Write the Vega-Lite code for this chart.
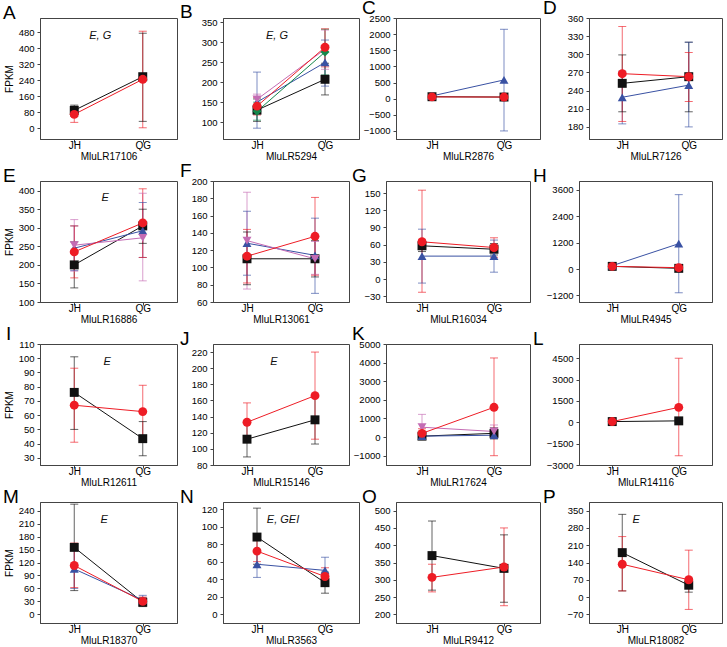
{
"$schema":"https://vega.github.io/schema/vega-lite/v6.json",
"padding":{"left":2,"top":-2,"right":0,"bottom":0},
"spacing":-1,
"datasets":{"d":[
{"p":"A","s":"k","x":"JH","m":90,"lo":60,"hi":116},{"p":"A","s":"k","x":"QG","m":258,"lo":35,"hi":475},
{"p":"A","s":"r","x":"JH","m":70,"lo":30,"hi":105},{"p":"A","s":"r","x":"QG","m":245,"lo":3,"hi":485},
{"p":"B","s":"k","x":"JH","m":130,"lo":102,"hi":158},{"p":"B","s":"k","x":"QG","m":207,"lo":168,"hi":247},
{"p":"B","s":"b","x":"JH","m":150,"lo":85,"hi":225},{"p":"B","s":"b","x":"QG","m":249,"lo":190,"hi":305},
{"p":"B","s":"m","x":"JH","m":157,"lo":130,"hi":170},{"p":"B","s":"m","x":"QG","m":282,"lo":232,"hi":330},
{"p":"B","s":"g","x":"JH","m":127,"lo":105,"hi":150},{"p":"B","s":"g","x":"QG","m":275,"lo":218,"hi":332},
{"p":"B","s":"r","x":"JH","m":140,"lo":118,"hi":162},{"p":"B","s":"r","x":"QG","m":287,"lo":238,"hi":333},
{"p":"C","s":"k","x":"JH","m":60,"lo":40,"hi":80},{"p":"C","s":"k","x":"QG","m":50,"lo":30,"hi":70},
{"p":"C","s":"b","x":"JH","m":85,"lo":40,"hi":130},{"p":"C","s":"b","x":"QG","m":580,"lo":-1000,"hi":2150},
{"p":"C","s":"r","x":"JH","m":55,"lo":30,"hi":80},{"p":"C","s":"r","x":"QG","m":50,"lo":20,"hi":80},
{"p":"D","s":"k","x":"JH","m":252,"lo":205,"hi":299},{"p":"D","s":"k","x":"QG","m":263,"lo":205,"hi":320},
{"p":"D","s":"b","x":"JH","m":229,"lo":185,"hi":272},{"p":"D","s":"b","x":"QG","m":249,"lo":180,"hi":320},
{"p":"D","s":"r","x":"JH","m":268,"lo":189,"hi":346},{"p":"D","s":"r","x":"QG","m":263,"lo":222,"hi":303},
{"p":"E","s":"k","x":"JH","m":200,"lo":138,"hi":262},{"p":"E","s":"k","x":"QG","m":305,"lo":258,"hi":350},
{"p":"E","s":"b","x":"JH","m":245,"lo":185,"hi":305},{"p":"E","s":"b","x":"QG","m":292,"lo":220,"hi":368},
{"p":"E","s":"m","x":"JH","m":253,"lo":183,"hi":322},{"p":"E","s":"m","x":"QG","m":273,"lo":157,"hi":393},
{"p":"E","s":"r","x":"JH","m":235,"lo":165,"hi":305},{"p":"E","s":"r","x":"QG","m":313,"lo":220,"hi":405},
{"p":"F","s":"k","x":"JH","m":110,"lo":80,"hi":141},{"p":"F","s":"k","x":"QG","m":110,"lo":89,"hi":131},
{"p":"F","s":"b","x":"JH","m":128,"lo":91,"hi":165},{"p":"F","s":"b","x":"QG","m":114,"lo":70,"hi":157},
{"p":"F","s":"m","x":"JH","m":131,"lo":75,"hi":187},{"p":"F","s":"m","x":"QG","m":110,"lo":92,"hi":130},
{"p":"F","s":"r","x":"JH","m":113,"lo":82,"hi":144},{"p":"F","s":"r","x":"QG","m":136,"lo":91,"hi":181},
{"p":"G","s":"k","x":"JH","m":58,"lo":48,"hi":68},{"p":"G","s":"k","x":"QG","m":52,"lo":42,"hi":62},
{"p":"G","s":"b","x":"JH","m":40,"lo":-7,"hi":87},{"p":"G","s":"b","x":"QG","m":40,"lo":12,"hi":68},
{"p":"G","s":"r","x":"JH","m":65,"lo":-23,"hi":155},{"p":"G","s":"r","x":"QG","m":55,"lo":38,"hi":72},
{"p":"H","s":"k","x":"JH","m":120,"lo":60,"hi":180},{"p":"H","s":"k","x":"QG","m":30,"lo":-30,"hi":90},
{"p":"H","s":"b","x":"JH","m":150,"lo":90,"hi":210},{"p":"H","s":"b","x":"QG","m":1150,"lo":-1080,"hi":3380},
{"p":"H","s":"r","x":"JH","m":120,"lo":60,"hi":180},{"p":"H","s":"r","x":"QG","m":60,"lo":0,"hi":120},
{"p":"I","s":"k","x":"JH","m":76,"lo":50,"hi":101},{"p":"I","s":"k","x":"QG","m":43.5,"lo":31.5,"hi":55.5},
{"p":"I","s":"r","x":"JH","m":67,"lo":41,"hi":93},{"p":"I","s":"r","x":"QG","m":62.5,"lo":43.5,"hi":81},
{"p":"J","s":"k","x":"JH","m":112,"lo":90,"hi":133},{"p":"J","s":"k","x":"QG","m":136,"lo":106,"hi":166},
{"p":"J","s":"r","x":"JH","m":133,"lo":109,"hi":157},{"p":"J","s":"r","x":"QG","m":166,"lo":112,"hi":220},
{"p":"K","s":"k","x":"JH","m":50,"lo":-50,"hi":150},{"p":"K","s":"k","x":"QG","m":200,"lo":-100,"hi":500},
{"p":"K","s":"b","x":"JH","m":50,"lo":-50,"hi":150},{"p":"K","s":"b","x":"QG","m":100,"lo":-50,"hi":250},
{"p":"K","s":"m","x":"JH","m":530,"lo":-100,"hi":1220},{"p":"K","s":"m","x":"QG","m":300,"lo":-50,"hi":650},
{"p":"K","s":"r","x":"JH","m":200,"lo":-50,"hi":450},{"p":"K","s":"r","x":"QG","m":1600,"lo":-1000,"hi":4250},
{"p":"L","s":"k","x":"JH","m":50,"lo":0,"hi":100},{"p":"L","s":"k","x":"QG","m":100,"lo":0,"hi":200},
{"p":"L","s":"r","x":"JH","m":50,"lo":0,"hi":100},{"p":"L","s":"r","x":"QG","m":1050,"lo":-2350,"hi":4500},
{"p":"M","s":"k","x":"JH","m":155,"lo":55,"hi":255},{"p":"M","s":"k","x":"QG","m":28,"lo":18,"hi":38},
{"p":"M","s":"b","x":"JH","m":105,"lo":60,"hi":150},{"p":"M","s":"b","x":"QG","m":33,"lo":22,"hi":44},
{"p":"M","s":"r","x":"JH","m":113,"lo":62,"hi":165},{"p":"M","s":"r","x":"QG","m":30,"lo":20,"hi":40},
{"p":"N","s":"k","x":"JH","m":88,"lo":57,"hi":121},{"p":"N","s":"k","x":"QG","m":36,"lo":24,"hi":48},
{"p":"N","s":"b","x":"JH","m":57,"lo":42,"hi":72},{"p":"N","s":"b","x":"QG","m":50,"lo":36,"hi":65},
{"p":"N","s":"r","x":"JH","m":72,"lo":60,"hi":85},{"p":"N","s":"r","x":"QG","m":43,"lo":33,"hi":53},
{"p":"O","s":"k","x":"JH","m":370,"lo":270,"hi":470},{"p":"O","s":"k","x":"QG","m":333,"lo":235,"hi":430},
{"p":"O","s":"r","x":"JH","m":307,"lo":265,"hi":345},{"p":"O","s":"r","x":"QG","m":337,"lo":225,"hi":450},
{"p":"P","s":"k","x":"JH","m":180,"lo":25,"hi":335},{"p":"P","s":"k","x":"QG","m":48,"lo":20,"hi":76},
{"p":"P","s":"r","x":"JH","m":133,"lo":25,"hi":245},{"p":"P","s":"r","x":"QG","m":70,"lo":-50,"hi":190}
]},
"config":{
 "font":"Liberation Sans",
 "view":{"stroke":"#444","strokeWidth":1},
 "axis":{"domainColor":"#444","tickColor":"#444","labelColor":"#000","titleColor":"#000","labelFontSize":10,"titleFontSize":10,"titleFontWeight":"normal","grid":false,"tickSize":3},
 "axisX":{"labelPadding":-2,"titlePadding":1,"labelAngle":0,"titleColor":"#000","labelColor":"#000"},
 "axisY":{"labelOverlap":false,"labelPadding":3,"titlePadding":4,"labelFontSize":9.5},
 "title":{"fontSize":19,"fontWeight":"normal","anchor":"start","frame":"group","offset":-5,"baseline":"alphabetic","color":"#000"},
 "line":{"strokeWidth":1},
 "tick":{"thickness":1}
},
"vconcat":[
{"hconcat":[
{"title":{"text":"A","dx":-37},"width":137,"height":121,"data":{"name":"d"},"transform":[{"filter":"datum.p==='A'"}],
 "encoding":{"x":{"field":"x","type":"nominal","scale":{"type":"point","domain":["JH","QG"],"padding":0.5},"axis":{"title":"MluLR17106"}},
  "color":{"field":"s","type":"nominal","scale":{"domain":["k","r","b","m","g"],"range":["#111111","#ee1c25","#3951a3","#c46cb4","#15874b"]},"legend":null}},
 "layer":[
  {"mark":{"type":"rule","opacity":0.65},"encoding":{"y":{"field":"lo","type":"quantitative","scale":{"domain":[-53,551],"nice":false,"zero":false},"axis":{"values":[0,80,160,240,320,400,480],"tickCount":20,"format":"d","labelOverlap":false,"title":"FPKM"}},"y2":{"field":"hi"}}},
  {"mark":{"type":"tick","opacity":0.65,"size":8},"encoding":{"y":{"field":"lo","type":"quantitative"}}},
  {"mark":{"type":"tick","opacity":0.65,"size":8},"encoding":{"y":{"field":"hi","type":"quantitative"}}},
  {"mark":{"type":"line"},"encoding":{"y":{"field":"m","type":"quantitative"}}},
  {"mark":{"type":"point","filled":true,"size":80,"opacity":1},"encoding":{"y":{"field":"m","type":"quantitative"},"shape":{"field":"s","type":"nominal","scale":{"domain":["k","r","b","m","g"],"range":["square","circle","triangle-up","triangle-down","diamond"]},"legend":null}}},
  {"data":{"values":[{"p":"A"}]},"mark":{"type":"text","text":"E, G","fontStyle":"italic","fontSize":11,"dx":26},"encoding":{"x":{"datum":"JH"},"y":{"datum":461},"color":{"value":"#111"}}}
 ]},
{"title":{"text":"B","dx":-43},"width":136,"height":121,"data":{"name":"d"},"transform":[{"filter":"datum.p==='B'"}],
 "encoding":{"x":{"field":"x","type":"nominal","scale":{"type":"point","domain":["JH","QG"],"padding":0.5},"axis":{"title":"MluLR5294"}},
  "color":{"field":"s","type":"nominal","scale":{"domain":["k","r","b","m","g"],"range":["#111111","#ee1c25","#3951a3","#c46cb4","#15874b"]},"legend":null}},
 "layer":[
  {"mark":{"type":"rule","opacity":0.65},"encoding":{"y":{"field":"lo","type":"quantitative","scale":{"domain":[58,360],"nice":false,"zero":false},"axis":{"values":[100,150,200,250,300,350],"tickCount":20,"format":"d","labelOverlap":false,"title":null}},"y2":{"field":"hi"}}},
  {"mark":{"type":"tick","opacity":0.65,"size":8},"encoding":{"y":{"field":"lo","type":"quantitative"}}},
  {"mark":{"type":"tick","opacity":0.65,"size":8},"encoding":{"y":{"field":"hi","type":"quantitative"}}},
  {"mark":{"type":"line"},"encoding":{"y":{"field":"m","type":"quantitative"}}},
  {"mark":{"type":"point","filled":true,"size":80,"opacity":1},"encoding":{"y":{"field":"m","type":"quantitative"},"shape":{"field":"s","type":"nominal","scale":{"domain":["k","r","b","m","g"],"range":["square","circle","triangle-up","triangle-down","diamond"]},"legend":null}}},
  {"data":{"values":[{"p":"B"}]},"mark":{"type":"text","text":"E, G","fontStyle":"italic","fontSize":11,"dx":20},"encoding":{"x":{"datum":"JH"},"y":{"datum":315},"color":{"value":"#111"}}}
 ]},
{"title":{"text":"C","dx":-34},"width":144,"height":121,"data":{"name":"d"},"transform":[{"filter":"datum.p==='C'"}],
 "encoding":{"x":{"field":"x","type":"nominal","scale":{"type":"point","domain":["JH","QG"],"padding":0.5},"axis":{"title":"MluLR2876"}},
  "color":{"field":"s","type":"nominal","scale":{"domain":["k","r","b","m","g"],"range":["#111111","#ee1c25","#3951a3","#c46cb4","#15874b"]},"legend":null}},
 "layer":[
  {"mark":{"type":"rule","opacity":0.65},"encoding":{"y":{"field":"lo","type":"quantitative","scale":{"domain":[-1250,2500],"nice":false,"zero":false},"axis":{"values":[-1000,-500,0,500,1000,1500,2000,2500],"tickCount":20,"format":"d","labelOverlap":false,"title":null}},"y2":{"field":"hi"}}},
  {"mark":{"type":"tick","opacity":0.65,"size":8},"encoding":{"y":{"field":"lo","type":"quantitative"}}},
  {"mark":{"type":"tick","opacity":0.65,"size":8},"encoding":{"y":{"field":"hi","type":"quantitative"}}},
  {"mark":{"type":"line"},"encoding":{"y":{"field":"m","type":"quantitative"}}},
  {"mark":{"type":"point","filled":true,"size":80,"opacity":1},"encoding":{"y":{"field":"m","type":"quantitative"},"shape":{"field":"s","type":"nominal","scale":{"domain":["k","r","b","m","g"],"range":["square","circle","triangle-up","triangle-down","diamond"]},"legend":null}}}
 ]},
{"title":{"text":"D","dx":-46},"width":133,"height":121,"data":{"name":"d"},"transform":[{"filter":"datum.p==='D'"}],
 "encoding":{"x":{"field":"x","type":"nominal","scale":{"type":"point","domain":["JH","QG"],"padding":0.5},"axis":{"title":"MluLR7126"}},
  "color":{"field":"s","type":"nominal","scale":{"domain":["k","r","b","m","g"],"range":["#111111","#ee1c25","#3951a3","#c46cb4","#15874b"]},"legend":null}},
 "layer":[
  {"mark":{"type":"rule","opacity":0.65},"encoding":{"y":{"field":"lo","type":"quantitative","scale":{"domain":[160,360],"nice":false,"zero":false},"axis":{"values":[180,210,240,270,300,330,360],"tickCount":20,"format":"d","labelOverlap":false,"title":null}},"y2":{"field":"hi"}}},
  {"mark":{"type":"tick","opacity":0.65,"size":8},"encoding":{"y":{"field":"lo","type":"quantitative"}}},
  {"mark":{"type":"tick","opacity":0.65,"size":8},"encoding":{"y":{"field":"hi","type":"quantitative"}}},
  {"mark":{"type":"line"},"encoding":{"y":{"field":"m","type":"quantitative"}}},
  {"mark":{"type":"point","filled":true,"size":80,"opacity":1},"encoding":{"y":{"field":"m","type":"quantitative"},"shape":{"field":"s","type":"nominal","scale":{"domain":["k","r","b","m","g"],"range":["square","circle","triangle-up","triangle-down","diamond"]},"legend":null}}}
 ]}
],"spacing":1},
{"hconcat":[
{"title":{"text":"E","dx":-37},"width":137,"height":121,"data":{"name":"d"},"transform":[{"filter":"datum.p==='E'"}],
 "encoding":{"x":{"field":"x","type":"nominal","scale":{"type":"point","domain":["JH","QG"],"padding":0.5},"axis":{"title":"MluLR16886"}},
  "color":{"field":"s","type":"nominal","scale":{"domain":["k","r","b","m","g"],"range":["#111111","#ee1c25","#3951a3","#c46cb4","#15874b"]},"legend":null}},
 "layer":[
  {"mark":{"type":"rule","opacity":0.65},"encoding":{"y":{"field":"lo","type":"quantitative","scale":{"domain":[100,426],"nice":false,"zero":false},"axis":{"values":[100,150,200,250,300,350,400],"tickCount":20,"format":"d","labelOverlap":false,"title":"FPKM"}},"y2":{"field":"hi"}}},
  {"mark":{"type":"tick","opacity":0.65,"size":8},"encoding":{"y":{"field":"lo","type":"quantitative"}}},
  {"mark":{"type":"tick","opacity":0.65,"size":8},"encoding":{"y":{"field":"hi","type":"quantitative"}}},
  {"mark":{"type":"line"},"encoding":{"y":{"field":"m","type":"quantitative"}}},
  {"mark":{"type":"point","filled":true,"size":80,"opacity":1},"encoding":{"y":{"field":"m","type":"quantitative"},"shape":{"field":"s","type":"nominal","scale":{"domain":["k","r","b","m","g"],"range":["square","circle","triangle-up","triangle-down","diamond"]},"legend":null}}},
  {"data":{"values":[{"p":"E"}]},"mark":{"type":"text","text":"E","fontStyle":"italic","fontSize":11,"dx":31},"encoding":{"x":{"datum":"JH"},"y":{"datum":380},"color":{"value":"#111"}}}
 ]},
{"title":{"text":"F","dx":-33},"width":136,"height":121,"data":{"name":"d"},"transform":[{"filter":"datum.p==='F'"}],
 "encoding":{"x":{"field":"x","type":"nominal","scale":{"type":"point","domain":["JH","QG"],"padding":0.5},"axis":{"title":"MluLR13061"}},
  "color":{"field":"s","type":"nominal","scale":{"domain":["k","r","b","m","g"],"range":["#111111","#ee1c25","#3951a3","#c46cb4","#15874b"]},"legend":null}},
 "layer":[
  {"mark":{"type":"rule","opacity":0.65},"encoding":{"y":{"field":"lo","type":"quantitative","scale":{"domain":[60,200],"nice":false,"zero":false},"axis":{"values":[60,80,100,120,140,160,180,200],"tickCount":20,"format":"d","labelOverlap":false,"title":null}},"y2":{"field":"hi"}}},
  {"mark":{"type":"tick","opacity":0.65,"size":8},"encoding":{"y":{"field":"lo","type":"quantitative"}}},
  {"mark":{"type":"tick","opacity":0.65,"size":8},"encoding":{"y":{"field":"hi","type":"quantitative"}}},
  {"mark":{"type":"line"},"encoding":{"y":{"field":"m","type":"quantitative"}}},
  {"mark":{"type":"point","filled":true,"size":80,"opacity":1},"encoding":{"y":{"field":"m","type":"quantitative"},"shape":{"field":"s","type":"nominal","scale":{"domain":["k","r","b","m","g"],"range":["square","circle","triangle-up","triangle-down","diamond"]},"legend":null}}}
 ]},
{"title":{"text":"G","dx":-34},"width":144,"height":121,"data":{"name":"d"},"transform":[{"filter":"datum.p==='G'"}],
 "encoding":{"x":{"field":"x","type":"nominal","scale":{"type":"point","domain":["JH","QG"],"padding":0.5},"axis":{"title":"MluLR16034"}},
  "color":{"field":"s","type":"nominal","scale":{"domain":["k","r","b","m","g"],"range":["#111111","#ee1c25","#3951a3","#c46cb4","#15874b"]},"legend":null}},
 "layer":[
  {"mark":{"type":"rule","opacity":0.65},"encoding":{"y":{"field":"lo","type":"quantitative","scale":{"domain":[-40,171],"nice":false,"zero":false},"axis":{"values":[-30,0,30,60,90,120,150],"tickCount":20,"format":"d","labelOverlap":false,"title":null}},"y2":{"field":"hi"}}},
  {"mark":{"type":"tick","opacity":0.65,"size":8},"encoding":{"y":{"field":"lo","type":"quantitative"}}},
  {"mark":{"type":"tick","opacity":0.65,"size":8},"encoding":{"y":{"field":"hi","type":"quantitative"}}},
  {"mark":{"type":"line"},"encoding":{"y":{"field":"m","type":"quantitative"}}},
  {"mark":{"type":"point","filled":true,"size":80,"opacity":1},"encoding":{"y":{"field":"m","type":"quantitative"},"shape":{"field":"s","type":"nominal","scale":{"domain":["k","r","b","m","g"],"range":["square","circle","triangle-up","triangle-down","diamond"]},"legend":null}}}
 ]},
{"title":{"text":"H","dx":-46},"width":133,"height":121,"data":{"name":"d"},"transform":[{"filter":"datum.p==='H'"}],
 "encoding":{"x":{"field":"x","type":"nominal","scale":{"type":"point","domain":["JH","QG"],"padding":0.5},"axis":{"title":"MluLR4945"}},
  "color":{"field":"s","type":"nominal","scale":{"domain":["k","r","b","m","g"],"range":["#111111","#ee1c25","#3951a3","#c46cb4","#15874b"]},"legend":null}},
 "layer":[
  {"mark":{"type":"rule","opacity":0.65},"encoding":{"y":{"field":"lo","type":"quantitative","scale":{"domain":[-1500,4000],"nice":false,"zero":false},"axis":{"values":[-1200,0,1200,2400,3600],"tickCount":20,"format":"d","labelOverlap":false,"title":null}},"y2":{"field":"hi"}}},
  {"mark":{"type":"tick","opacity":0.65,"size":8},"encoding":{"y":{"field":"lo","type":"quantitative"}}},
  {"mark":{"type":"tick","opacity":0.65,"size":8},"encoding":{"y":{"field":"hi","type":"quantitative"}}},
  {"mark":{"type":"line"},"encoding":{"y":{"field":"m","type":"quantitative"}}},
  {"mark":{"type":"point","filled":true,"size":80,"opacity":1},"encoding":{"y":{"field":"m","type":"quantitative"},"shape":{"field":"s","type":"nominal","scale":{"domain":["k","r","b","m","g"],"range":["square","circle","triangle-up","triangle-down","diamond"]},"legend":null}}}
 ]}
],"spacing":1},
{"hconcat":[
{"title":{"text":"I","dx":-34},"width":137,"height":121,"data":{"name":"d"},"transform":[{"filter":"datum.p==='I'"}],
 "encoding":{"x":{"field":"x","type":"nominal","scale":{"type":"point","domain":["JH","QG"],"padding":0.5},"axis":{"title":"MluLR12611"}},
  "color":{"field":"s","type":"nominal","scale":{"domain":["k","r","b","m","g"],"range":["#111111","#ee1c25","#3951a3","#c46cb4","#15874b"]},"legend":null}},
 "layer":[
  {"mark":{"type":"rule","opacity":0.65},"encoding":{"y":{"field":"lo","type":"quantitative","scale":{"domain":[25,110],"nice":false,"zero":false},"axis":{"values":[30,40,50,60,70,80,90,100,110],"tickCount":20,"format":"d","labelOverlap":false,"title":"FPKM"}},"y2":{"field":"hi"}}},
  {"mark":{"type":"tick","opacity":0.65,"size":8},"encoding":{"y":{"field":"lo","type":"quantitative"}}},
  {"mark":{"type":"tick","opacity":0.65,"size":8},"encoding":{"y":{"field":"hi","type":"quantitative"}}},
  {"mark":{"type":"line"},"encoding":{"y":{"field":"m","type":"quantitative"}}},
  {"mark":{"type":"point","filled":true,"size":80,"opacity":1},"encoding":{"y":{"field":"m","type":"quantitative"},"shape":{"field":"s","type":"nominal","scale":{"domain":["k","r","b","m","g"],"range":["square","circle","triangle-up","triangle-down","diamond"]},"legend":null}}},
  {"data":{"values":[{"p":"I"}]},"mark":{"type":"text","text":"E","fontStyle":"italic","fontSize":11,"dx":33},"encoding":{"x":{"datum":"JH"},"y":{"datum":97.4},"color":{"value":"#111"}}}
 ]},
{"title":{"text":"J","dx":-33},"width":136,"height":121,"data":{"name":"d"},"transform":[{"filter":"datum.p==='J'"}],
 "encoding":{"x":{"field":"x","type":"nominal","scale":{"type":"point","domain":["JH","QG"],"padding":0.5},"axis":{"title":"MluLR15146"}},
  "color":{"field":"s","type":"nominal","scale":{"domain":["k","r","b","m","g"],"range":["#111111","#ee1c25","#3951a3","#c46cb4","#15874b"]},"legend":null}},
 "layer":[
  {"mark":{"type":"rule","opacity":0.65},"encoding":{"y":{"field":"lo","type":"quantitative","scale":{"domain":[80,230],"nice":false,"zero":false},"axis":{"values":[80,100,120,140,160,180,200,220],"tickCount":20,"format":"d","labelOverlap":false,"title":null}},"y2":{"field":"hi"}}},
  {"mark":{"type":"tick","opacity":0.65,"size":8},"encoding":{"y":{"field":"lo","type":"quantitative"}}},
  {"mark":{"type":"tick","opacity":0.65,"size":8},"encoding":{"y":{"field":"hi","type":"quantitative"}}},
  {"mark":{"type":"line"},"encoding":{"y":{"field":"m","type":"quantitative"}}},
  {"mark":{"type":"point","filled":true,"size":80,"opacity":1},"encoding":{"y":{"field":"m","type":"quantitative"},"shape":{"field":"s","type":"nominal","scale":{"domain":["k","r","b","m","g"],"range":["square","circle","triangle-up","triangle-down","diamond"]},"legend":null}}},
  {"data":{"values":[{"p":"J"}]},"mark":{"type":"text","text":"E","fontStyle":"italic","fontSize":11,"dx":27},"encoding":{"x":{"datum":"JH"},"y":{"datum":208},"color":{"value":"#111"}}}
 ]},
{"title":{"text":"K","dx":-34},"width":144,"height":121,"data":{"name":"d"},"transform":[{"filter":"datum.p==='K'"}],
 "encoding":{"x":{"field":"x","type":"nominal","scale":{"type":"point","domain":["JH","QG"],"padding":0.5},"axis":{"title":"MluLR17624"}},
  "color":{"field":"s","type":"nominal","scale":{"domain":["k","r","b","m","g"],"range":["#111111","#ee1c25","#3951a3","#c46cb4","#15874b"]},"legend":null}},
 "layer":[
  {"mark":{"type":"rule","opacity":0.65},"encoding":{"y":{"field":"lo","type":"quantitative","scale":{"domain":[-1500,5000],"nice":false,"zero":false},"axis":{"values":[-1000,0,1000,2000,3000,4000,5000],"tickCount":20,"format":"d","labelOverlap":false,"title":null}},"y2":{"field":"hi"}}},
  {"mark":{"type":"tick","opacity":0.65,"size":8},"encoding":{"y":{"field":"lo","type":"quantitative"}}},
  {"mark":{"type":"tick","opacity":0.65,"size":8},"encoding":{"y":{"field":"hi","type":"quantitative"}}},
  {"mark":{"type":"line"},"encoding":{"y":{"field":"m","type":"quantitative"}}},
  {"mark":{"type":"point","filled":true,"size":80,"opacity":1},"encoding":{"y":{"field":"m","type":"quantitative"},"shape":{"field":"s","type":"nominal","scale":{"domain":["k","r","b","m","g"],"range":["square","circle","triangle-up","triangle-down","diamond"]},"legend":null}}}
 ]},
{"title":{"text":"L","dx":-46},"width":133,"height":121,"data":{"name":"d"},"transform":[{"filter":"datum.p==='L'"}],
 "encoding":{"x":{"field":"x","type":"nominal","scale":{"type":"point","domain":["JH","QG"],"padding":0.5},"axis":{"title":"MluLR14116"}},
  "color":{"field":"s","type":"nominal","scale":{"domain":["k","r","b","m","g"],"range":["#111111","#ee1c25","#3951a3","#c46cb4","#15874b"]},"legend":null}},
 "layer":[
  {"mark":{"type":"rule","opacity":0.65},"encoding":{"y":{"field":"lo","type":"quantitative","scale":{"domain":[-3000,5500],"nice":false,"zero":false},"axis":{"values":[-3000,-1500,0,1500,3000,4500],"tickCount":20,"format":"d","labelOverlap":false,"title":null}},"y2":{"field":"hi"}}},
  {"mark":{"type":"tick","opacity":0.65,"size":8},"encoding":{"y":{"field":"lo","type":"quantitative"}}},
  {"mark":{"type":"tick","opacity":0.65,"size":8},"encoding":{"y":{"field":"hi","type":"quantitative"}}},
  {"mark":{"type":"line"},"encoding":{"y":{"field":"m","type":"quantitative"}}},
  {"mark":{"type":"point","filled":true,"size":80,"opacity":1},"encoding":{"y":{"field":"m","type":"quantitative"},"shape":{"field":"s","type":"nominal","scale":{"domain":["k","r","b","m","g"],"range":["square","circle","triangle-up","triangle-down","diamond"]},"legend":null}}}
 ]}
],"spacing":1},
{"hconcat":[
{"title":{"text":"M","dx":-37},"width":137,"height":121,"data":{"name":"d"},"transform":[{"filter":"datum.p==='M'"}],
 "encoding":{"x":{"field":"x","type":"nominal","scale":{"type":"point","domain":["JH","QG"],"padding":0.5},"axis":{"title":"MluLR18370"}},
  "color":{"field":"s","type":"nominal","scale":{"domain":["k","r","b","m","g"],"range":["#111111","#ee1c25","#3951a3","#c46cb4","#15874b"]},"legend":null}},
 "layer":[
  {"mark":{"type":"rule","opacity":0.65},"encoding":{"y":{"field":"lo","type":"quantitative","scale":{"domain":[-20,260],"nice":false,"zero":false},"axis":{"values":[0,30,60,90,120,150,180,210,240],"tickCount":20,"format":"d","labelOverlap":false,"title":"FPKM"}},"y2":{"field":"hi"}}},
  {"mark":{"type":"tick","opacity":0.65,"size":8},"encoding":{"y":{"field":"lo","type":"quantitative"}}},
  {"mark":{"type":"tick","opacity":0.65,"size":8},"encoding":{"y":{"field":"hi","type":"quantitative"}}},
  {"mark":{"type":"line"},"encoding":{"y":{"field":"m","type":"quantitative"}}},
  {"mark":{"type":"point","filled":true,"size":80,"opacity":1},"encoding":{"y":{"field":"m","type":"quantitative"},"shape":{"field":"s","type":"nominal","scale":{"domain":["k","r","b","m","g"],"range":["square","circle","triangle-up","triangle-down","diamond"]},"legend":null}}},
  {"data":{"values":[{"p":"M"}]},"mark":{"type":"text","text":"E","fontStyle":"italic","fontSize":11,"dx":30},"encoding":{"x":{"datum":"JH"},"y":{"datum":218},"color":{"value":"#111"}}}
 ]},
{"title":{"text":"N","dx":-43},"width":136,"height":121,"data":{"name":"d"},"transform":[{"filter":"datum.p==='N'"}],
 "encoding":{"x":{"field":"x","type":"nominal","scale":{"type":"point","domain":["JH","QG"],"padding":0.5},"axis":{"title":"MluLR3563"}},
  "color":{"field":"s","type":"nominal","scale":{"domain":["k","r","b","m","g"],"range":["#111111","#ee1c25","#3951a3","#c46cb4","#15874b"]},"legend":null}},
 "layer":[
  {"mark":{"type":"rule","opacity":0.65},"encoding":{"y":{"field":"lo","type":"quantitative","scale":{"domain":[-10,128],"nice":false,"zero":false},"axis":{"values":[0,20,40,60,80,100,120],"tickCount":20,"format":"d","labelOverlap":false,"title":null}},"y2":{"field":"hi"}}},
  {"mark":{"type":"tick","opacity":0.65,"size":8},"encoding":{"y":{"field":"lo","type":"quantitative"}}},
  {"mark":{"type":"tick","opacity":0.65,"size":8},"encoding":{"y":{"field":"hi","type":"quantitative"}}},
  {"mark":{"type":"line"},"encoding":{"y":{"field":"m","type":"quantitative"}}},
  {"mark":{"type":"point","filled":true,"size":80,"opacity":1},"encoding":{"y":{"field":"m","type":"quantitative"},"shape":{"field":"s","type":"nominal","scale":{"domain":["k","r","b","m","g"],"range":["square","circle","triangle-up","triangle-down","diamond"]},"legend":null}}},
  {"data":{"values":[{"p":"N"}]},"mark":{"type":"text","text":"E, GEI","fontStyle":"italic","fontSize":11,"dx":26},"encoding":{"x":{"datum":"JH"},"y":{"datum":107.5},"color":{"value":"#111"}}}
 ]},
{"title":{"text":"O","dx":-34},"width":144,"height":121,"data":{"name":"d"},"transform":[{"filter":"datum.p==='O'"}],
 "encoding":{"x":{"field":"x","type":"nominal","scale":{"type":"point","domain":["JH","QG"],"padding":0.5},"axis":{"title":"MluLR9412"}},
  "color":{"field":"s","type":"nominal","scale":{"domain":["k","r","b","m","g"],"range":["#111111","#ee1c25","#3951a3","#c46cb4","#15874b"]},"legend":null}},
 "layer":[
  {"mark":{"type":"rule","opacity":0.65},"encoding":{"y":{"field":"lo","type":"quantitative","scale":{"domain":[175,525],"nice":false,"zero":false},"axis":{"values":[200,250,300,350,400,450,500],"tickCount":20,"format":"d","labelOverlap":false,"title":null}},"y2":{"field":"hi"}}},
  {"mark":{"type":"tick","opacity":0.65,"size":8},"encoding":{"y":{"field":"lo","type":"quantitative"}}},
  {"mark":{"type":"tick","opacity":0.65,"size":8},"encoding":{"y":{"field":"hi","type":"quantitative"}}},
  {"mark":{"type":"line"},"encoding":{"y":{"field":"m","type":"quantitative"}}},
  {"mark":{"type":"point","filled":true,"size":80,"opacity":1},"encoding":{"y":{"field":"m","type":"quantitative"},"shape":{"field":"s","type":"nominal","scale":{"domain":["k","r","b","m","g"],"range":["square","circle","triangle-up","triangle-down","diamond"]},"legend":null}}}
 ]},
{"title":{"text":"P","dx":-46},"width":133,"height":121,"data":{"name":"d"},"transform":[{"filter":"datum.p==='P'"}],
 "encoding":{"x":{"field":"x","type":"nominal","scale":{"type":"point","domain":["JH","QG"],"padding":0.5},"axis":{"title":"MluLR18082"}},
  "color":{"field":"s","type":"nominal","scale":{"domain":["k","r","b","m","g"],"range":["#111111","#ee1c25","#3951a3","#c46cb4","#15874b"]},"legend":null}},
 "layer":[
  {"mark":{"type":"rule","opacity":0.65},"encoding":{"y":{"field":"lo","type":"quantitative","scale":{"domain":[-105,385],"nice":false,"zero":false},"axis":{"values":[-70,0,70,140,210,280,350],"tickCount":20,"format":"d","labelOverlap":false,"title":null}},"y2":{"field":"hi"}}},
  {"mark":{"type":"tick","opacity":0.65,"size":8},"encoding":{"y":{"field":"lo","type":"quantitative"}}},
  {"mark":{"type":"tick","opacity":0.65,"size":8},"encoding":{"y":{"field":"hi","type":"quantitative"}}},
  {"mark":{"type":"line"},"encoding":{"y":{"field":"m","type":"quantitative"}}},
  {"mark":{"type":"point","filled":true,"size":80,"opacity":1},"encoding":{"y":{"field":"m","type":"quantitative"},"shape":{"field":"s","type":"nominal","scale":{"domain":["k","r","b","m","g"],"range":["square","circle","triangle-up","triangle-down","diamond"]},"legend":null}}},
  {"data":{"values":[{"p":"P"}]},"mark":{"type":"text","text":"E","fontStyle":"italic","fontSize":11,"dx":14},"encoding":{"x":{"datum":"JH"},"y":{"datum":312},"color":{"value":"#111"}}}
 ]}
],"spacing":1}
]
}
